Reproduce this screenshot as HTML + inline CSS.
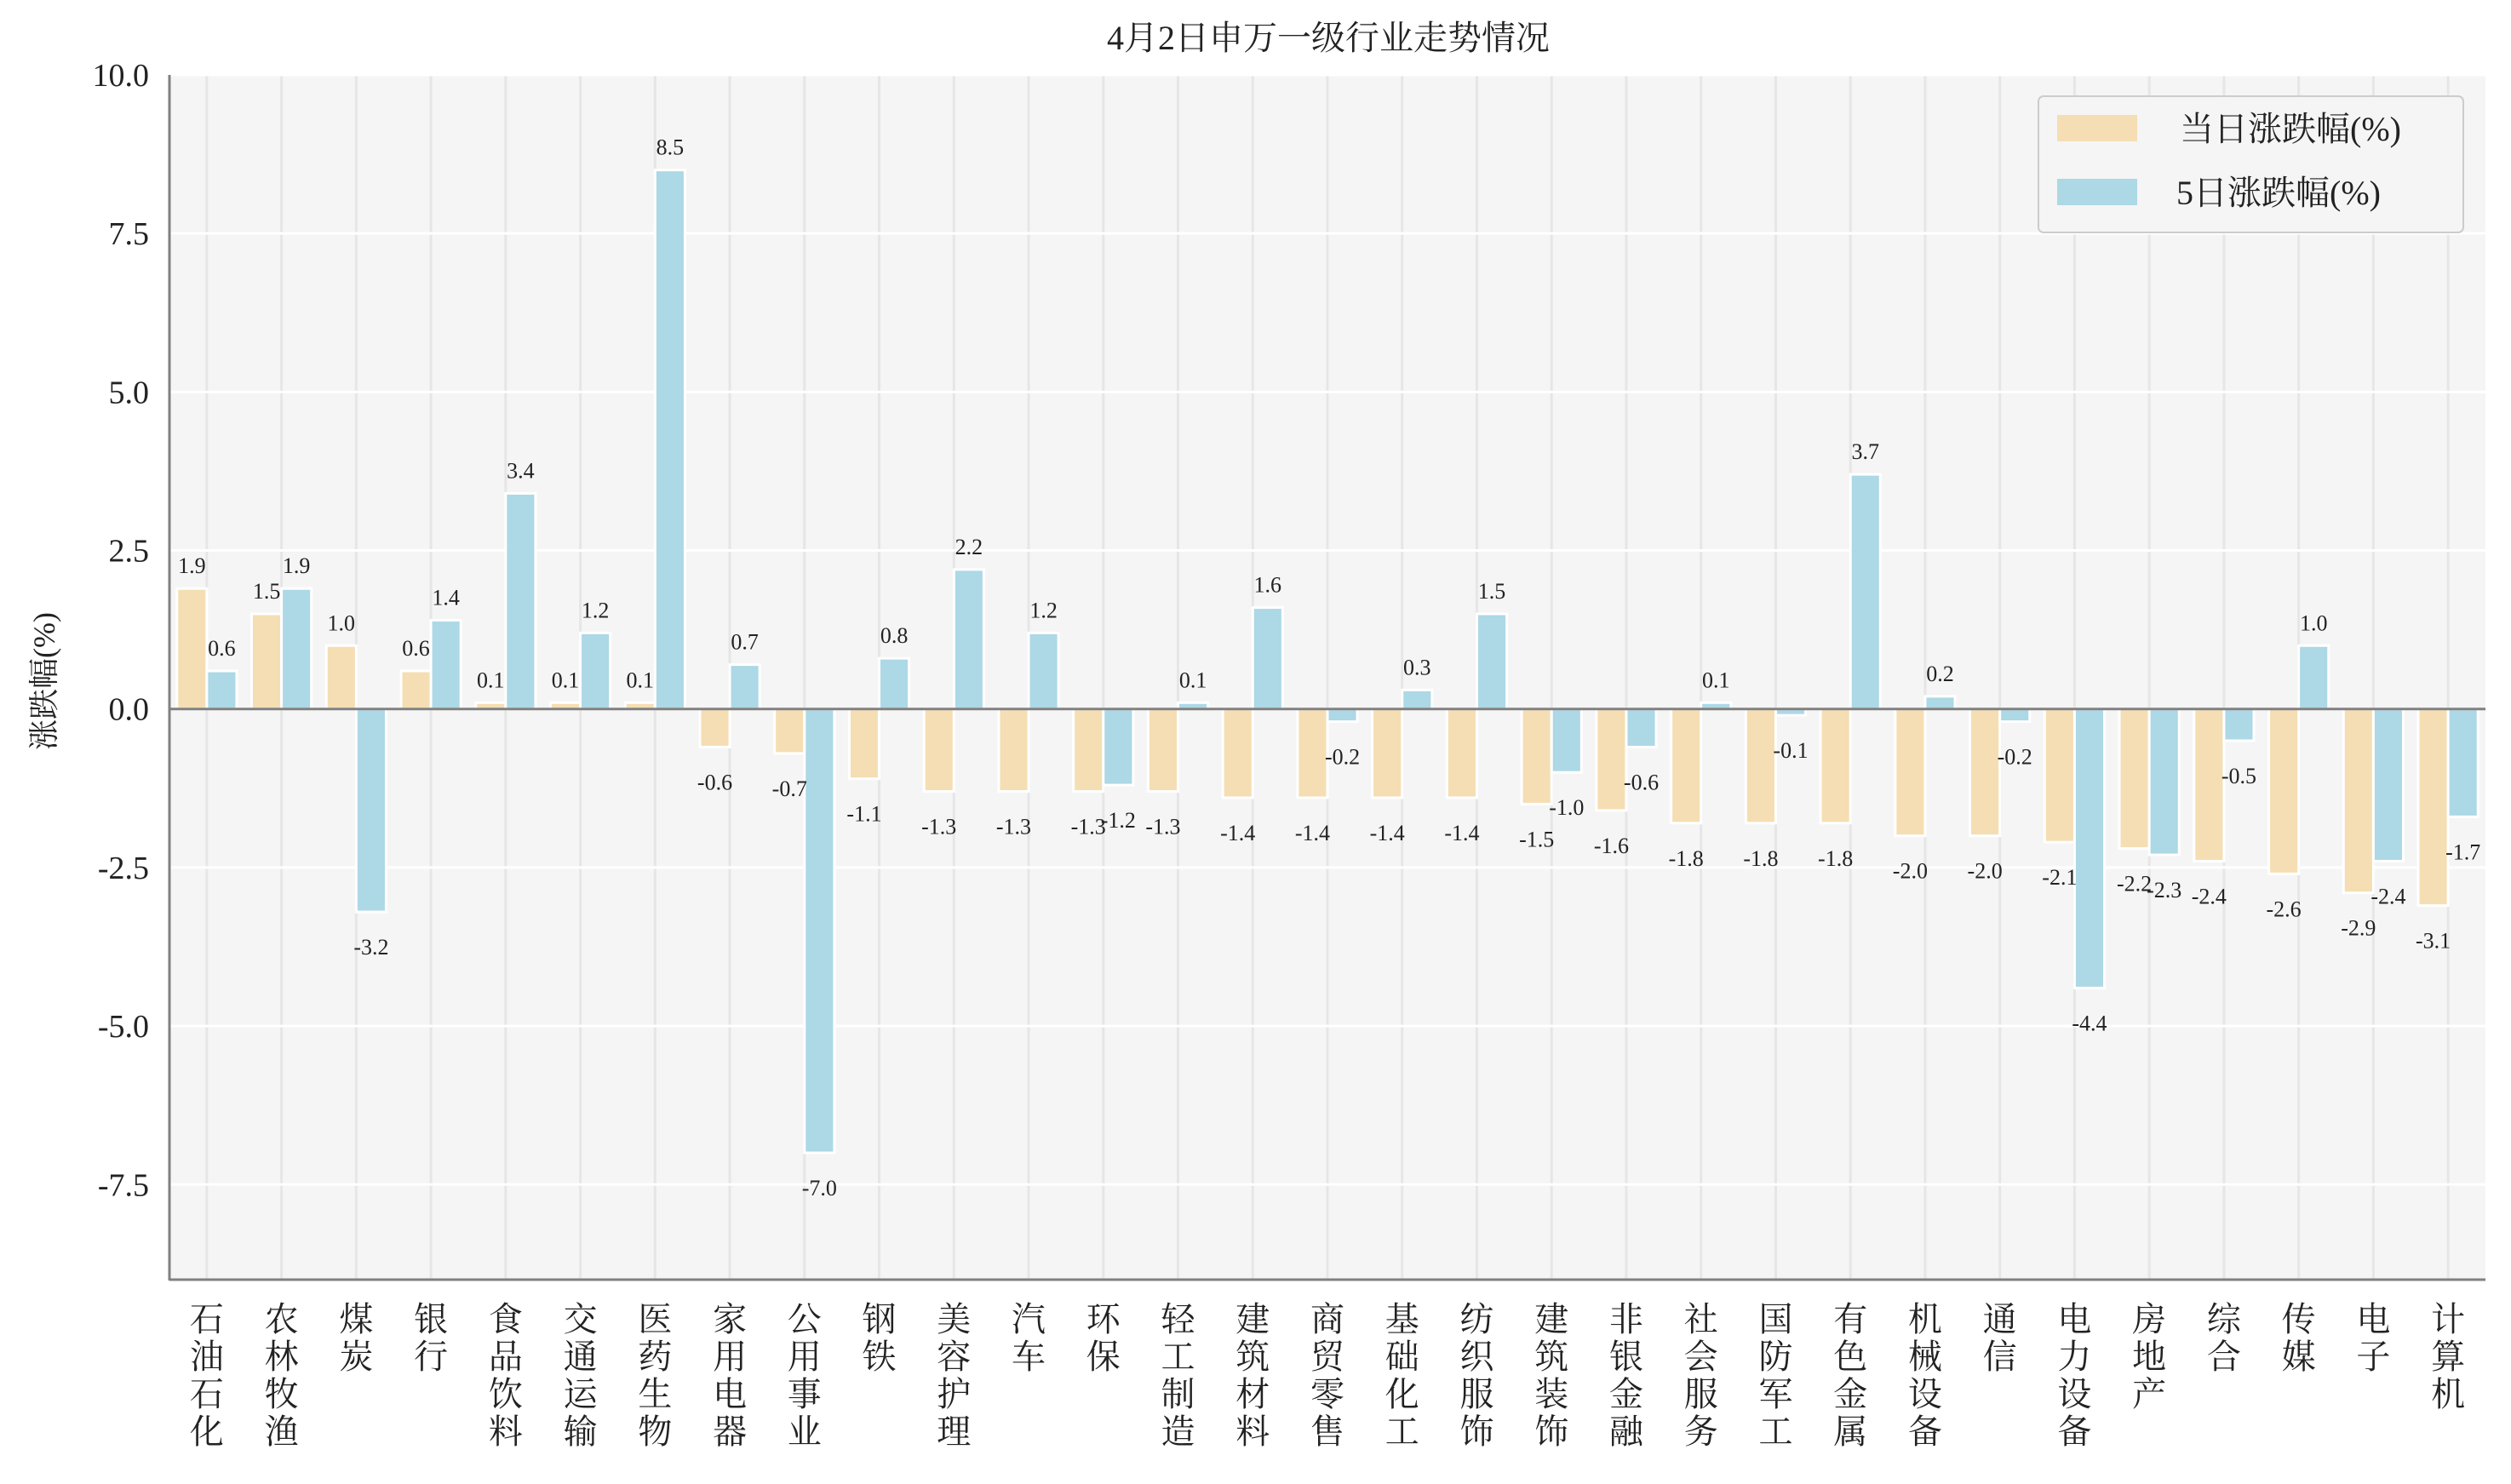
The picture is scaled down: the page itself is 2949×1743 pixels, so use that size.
<!DOCTYPE html>
<html><head><meta charset="utf-8">
<style>
html,body{margin:0;padding:0;background:#fff;}
svg{display:block;}
text{font-family:"Liberation Serif","Noto Serif CJK SC",serif;fill:#222;}
</style></head>
<body>
<svg id="chart" width="2949" height="1743" viewBox="0 0 2949 1743" xmlns="http://www.w3.org/2000/svg">
<text x="1560" y="58" font-size="40" text-anchor="middle">4月2日申万一级行业走势情况</text>
<rect x="199" y="88" width="2720" height="1415" fill="#f5f5f5"/>
<g id="grid"></g>
<g id="bars"></g>
<g id="vals"></g>
<g id="axes"></g>
<text transform="translate(64,800) rotate(-90)" font-size="36" text-anchor="middle">涨跌幅(%)</text>
<g>
<rect x="2394" y="113" width="499" height="160" rx="6" fill="#f5f5f5" stroke="#ccc" stroke-width="2"/>
<rect x="2416" y="135" width="94" height="31" fill="#f5deb3"/>
<text x="2560" y="165" font-size="40">当日涨跌幅(%)</text>
<rect x="2416" y="210" width="94" height="31" fill="#add8e6"/>
<text x="2556" y="240" font-size="40">5日涨跌幅(%)</text>
</g>
</svg>
<script>
const categories=["石油石化","农林牧渔","煤炭","银行","食品饮料","交通运输","医药生物","家用电器","公用事业","钢铁","美容护理","汽车","环保","轻工制造","建筑材料","商贸零售","基础化工","纺织服饰","建筑装饰","非银金融","社会服务","国防军工","有色金属","机械设备","通信","电力设备","房地产","综合","传媒","电子","计算机"];
const dailyChange=[1.9,1.5,1.0,0.6,0.1,0.1,0.1,-0.6,-0.7,-1.1,-1.3,-1.3,-1.3,-1.3,-1.4,-1.4,-1.4,-1.4,-1.5,-1.6,-1.8,-1.8,-1.8,-2.0,-2.0,-2.1,-2.2,-2.4,-2.6,-2.9,-3.1];
const fiveDayChange=[0.6,1.9,-3.2,1.4,3.4,1.2,8.5,0.7,-7.0,0.8,2.2,1.2,-1.2,0.1,1.6,-0.2,0.3,1.5,-1.0,-0.6,0.1,-0.1,3.7,0.2,-0.2,-4.4,-2.3,-0.5,1.0,-2.4,-1.7];
const yTicks=[-7.5,-5.0,-2.5,0.0,2.5,5.0,7.5,10.0];
const yMin=-9,yMax=10;
const L=199,R=2919,T=88,B=1503;
const NS="http://www.w3.org/2000/svg";
const xs=i=>L+(i+0.5)*(R-L)/categories.length;
const ys=v=>B-(v-yMin)/(yMax-yMin)*(B-T);
const step=(R-L)/categories.length;
function mk(tag,attrs,parent){const e=document.createElementNS(NS,tag);for(const k in attrs)e.setAttribute(k,attrs[k]);parent.appendChild(e);return e;}
const grid=document.getElementById('grid'),bars=document.getElementById('bars'),vals=document.getElementById('vals'),axes=document.getElementById('axes');
categories.forEach((c,i)=>{
 const g=mk('line',{x1:xs(i),x2:xs(i),y1:T,y2:B,stroke:'#e6e6e6','stroke-width':3},grid);
 
 
});
yTicks.forEach(v=>{
 const g=mk('line',{x1:L,x2:R,y1:ys(v),y2:ys(v),stroke:'#ffffff','stroke-width':3},grid);
 
 
 const t=mk('text',{x:L-24,y:ys(v)+13,'font-size':38,'text-anchor':'end'},axes);
 t.textContent=v.toFixed(1);
 
 
});
const bw=step*0.4;
function drawSeries(arr,off,color,name){
 arr.forEach((v,i)=>{
  const cx=xs(i)+off*step;
  const y0=ys(0),y1=ys(v);
  const r=mk('rect',{x:cx-bw/2,y:Math.min(y0,y1),width:bw,height:Math.max(1,Math.abs(y1-y0)),fill:color,stroke:'#fff','stroke-width':3},bars);
  
  
  const t=mk('text',{x:cx,y:v>=0?y1-18:y1+50,'font-size':26,'text-anchor':'middle',fill:'#333'},vals);
  t.textContent=v.toFixed(1);
  
  
 });
}
drawSeries(dailyChange,-0.2,'#f5deb3','daily');
drawSeries(fiveDayChange,0.2,'#add8e6','five-day');
const z=mk('line',{x1:L,x2:R,y1:ys(0),y2:ys(0),stroke:'#808080','stroke-width':3},axes);


const ya=mk('line',{x1:L,x2:L,y1:T,y2:B+1,stroke:'#808080','stroke-width':3},axes);


const xa=mk('line',{x1:L,x2:R,y1:B,y2:B,stroke:'#808080','stroke-width':3},axes);


categories.forEach((c,i)=>{
 const t=mk('text',{'font-size':40,'text-anchor':'middle'},axes);
 
 
 [...c].forEach((ch,k)=>{
  const s=mk('tspan',{x:xs(i),y:1563+k*44},t);
  s.textContent=ch;
 });
});
</script>
</body></html>
